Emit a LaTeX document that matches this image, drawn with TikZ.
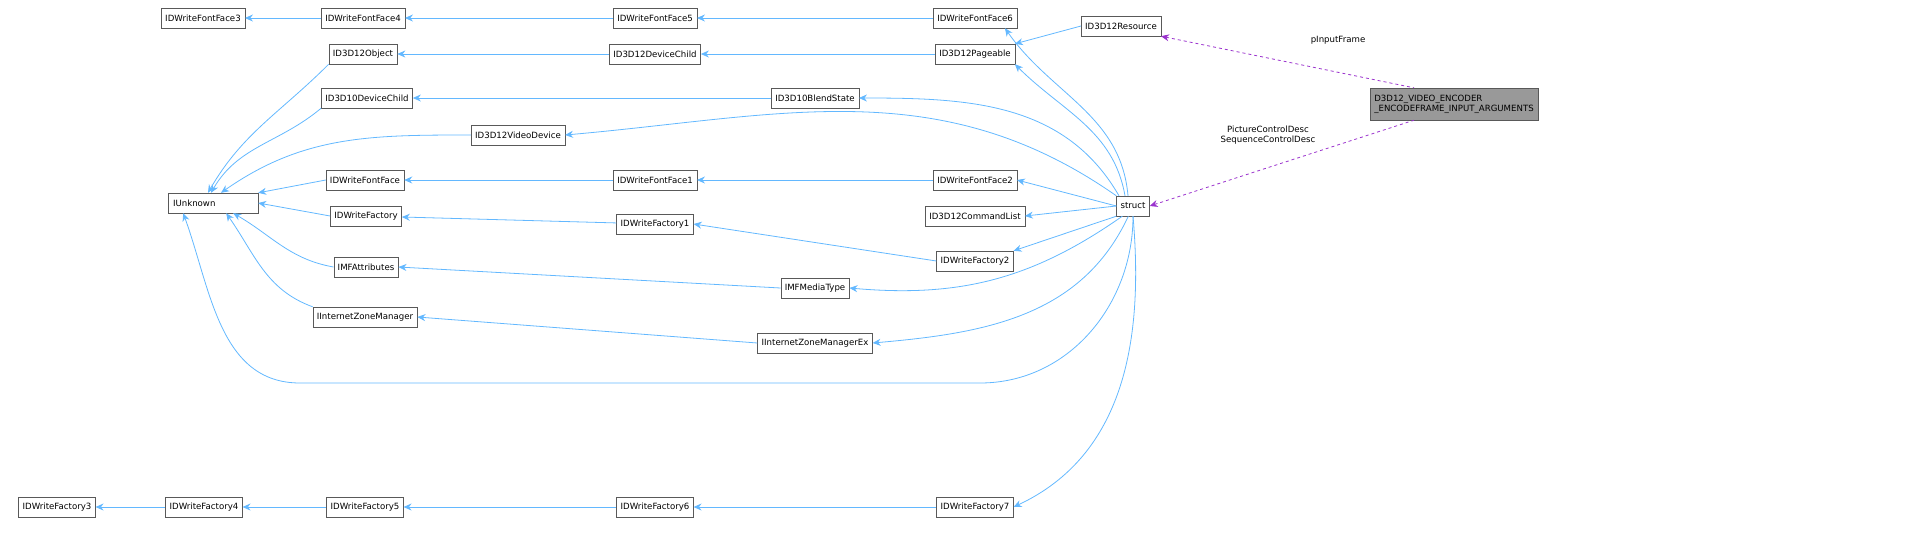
\documentclass[tikz,border=0pt]{standalone}
\usepackage{fontspec}
\setmainfont{DejaVu Sans}
\usetikzlibrary{arrows.meta}
\definecolor{edge}{HTML}{63B8FF}
\definecolor{dep}{HTML}{9A32CD}
\begin{document}
\begin{tikzpicture}[x=1pt,y=-1pt,
  box/.style={draw=black!65,fill=white,font=\fontsize{8.6}{10}\selectfont,inner xsep=4pt,minimum height=20pt,inner ysep=0pt},
  inh/.style={draw=edge,line width=0.8pt,{Stealth[length=8pt,width=7pt]}-},
  use/.style={draw=dep,line width=0.8pt,dashed,{Stealth[length=8pt,width=7pt]}-},
  lbl/.style={font=\fontsize{8.6}{10}\selectfont,align=center}]
\useasboundingbox (0,0) rectangle (1916,539);
\node[box] (ff3) at (203,18) {IDWriteFontFace3};
\node[box] (ff4) at (363,18) {IDWriteFontFace4};
\node[box] (ff5) at (655,18) {IDWriteFontFace5};
\node[box] (ff6) at (975,18) {IDWriteFontFace6};
\node[box] (res) at (1121,26) {ID3D12Resource};
\node[box,fill=black!40,align=left,minimum height=32pt] (enc) at (1454,104) {D3D12\_VIDEO\_ENCODER\\\_ENCODEFRAME\_INPUT\_ARGUMENTS};
\node[box] (obj) at (363,54) {ID3D12Object};
\node[box] (dc) at (655,54) {ID3D12DeviceChild};
\node[box] (pag) at (975,54) {ID3D12Pageable};
\node[box] (d10) at (367,98) {ID3D10DeviceChild};
\node[box] (bs) at (815,98) {ID3D10BlendState};
\node[box] (vd) at (518,135) {ID3D12VideoDevice};
\node[box,minimum width=90pt,text width=80pt] (iu) at (213,203) {IUnknown};
\node[box] (ff) at (365,180) {IDWriteFontFace};
\node[box] (ff1) at (655,180) {IDWriteFontFace1};
\node[box] (ff2) at (975,180) {IDWriteFontFace2};
\node[box] (st) at (1133,206) {struct};
\node[box] (f) at (366,216) {IDWriteFactory};
\node[box] (f1) at (655,224) {IDWriteFactory1};
\node[box] (cl) at (975,216) {ID3D12CommandList};
\node[box] (f2) at (975,261) {IDWriteFactory2};
\node[box] (mfa) at (366,267) {IMFAttributes};
\node[box] (mft) at (815,288) {IMFMediaType};
\node[box] (zm) at (365,317) {IInternetZoneManager};
\node[box] (zmx) at (815,343) {IInternetZoneManagerEx};
\node[box] (f3) at (57,507) {IDWriteFactory3};
\node[box] (f4) at (204,507) {IDWriteFactory4};
\node[box] (f5) at (365,507) {IDWriteFactory5};
\node[box] (f6) at (655,507) {IDWriteFactory6};
\node[box] (f7) at (975,507) {IDWriteFactory7};
% chains
\draw[inh] (ff3) -- (ff4); \draw[inh] (ff4) -- (ff5); \draw[inh] (ff5) -- (ff6);
\draw[inh] (obj) -- (dc); \draw[inh] (dc) -- (pag);
\draw[inh] (pag.north east) -- (res.west);
\draw[inh] (d10) -- (bs);
\draw[inh] (ff) -- (ff1); \draw[inh] (ff1) -- (ff2);
\draw[inh] (f) -- (f1); \draw[inh] (f1.east) -- (f2.west);
\draw[inh] (mfa.east) -- (mft.west);
\draw[inh] (zm.east) -- (zmx.west);
\draw[inh] (f3) -- (f4); \draw[inh] (f4) -- (f5); \draw[inh] (f5) -- (f6); \draw[inh] (f6) -- (f7);
% IUnknown fan
\draw[inh] ([xshift=-5pt]iu.north) to[out=60,in=-135] (obj.south west);
\draw[inh] ([xshift=-2pt]iu.north) to[out=60,in=-140] (d10.south west);
\draw[inh] ([xshift=8pt]iu.north) to[out=35,in=180] (vd.west);
\draw[inh] (iu.north east) -- (ff.west);
\draw[inh] (iu.east) -- (f.west);
\draw[inh] ([xshift=-25pt]iu.south east) to[out=-30,in=170] (mfa.west);
\draw[inh] ([xshift=-32pt]iu.south east) to[out=-55,in=160] (zm.north west);
\draw[inh] ([xshift=-75pt]iu.south east) to[out=-70,in=180] (300,383) -- (980,383) to[out=0,in=-90] (st.south);
% struct fan
\draw[inh] ([xshift=-12pt]ff6.south east) to[out=-55,in=95] ([xshift=-5pt]st.north);
\draw[inh] (pag.south east) to[out=-45,in=100] ([xshift=-8pt]st.north);
\draw[inh] (bs.east) to[out=0,in=120] ([xshift=-14pt]st.north);
\draw[inh] (vd.east) to[out=5,in=145] (st.north west);
\draw[inh] (ff2.east) -- (st.west);
\draw[inh] (cl.east) -- (st.west);
\draw[inh] (f2.north east) -- (st.south west);
\draw[inh] (mft.east) to[out=-5,in=-145] ([xshift=6pt]st.south west);
\draw[inh] (zmx.east) to[out=5,in=-115] ([xshift=12pt]st.south west);
\draw[inh] (f7.east) to[out=25,in=-85] (st.south);
% dependencies
\draw[use] (res.south east) -- ([xshift=-40pt]enc.north);
\node[lbl] (l1) at (1338,40) {pInputFrame};
\draw[use] (st.east) -- ([xshift=-40pt]enc.south);
\node[lbl] (l2) at (1268,135) {PictureControlDesc\\SequenceControlDesc};
\end{tikzpicture}
\end{document}
